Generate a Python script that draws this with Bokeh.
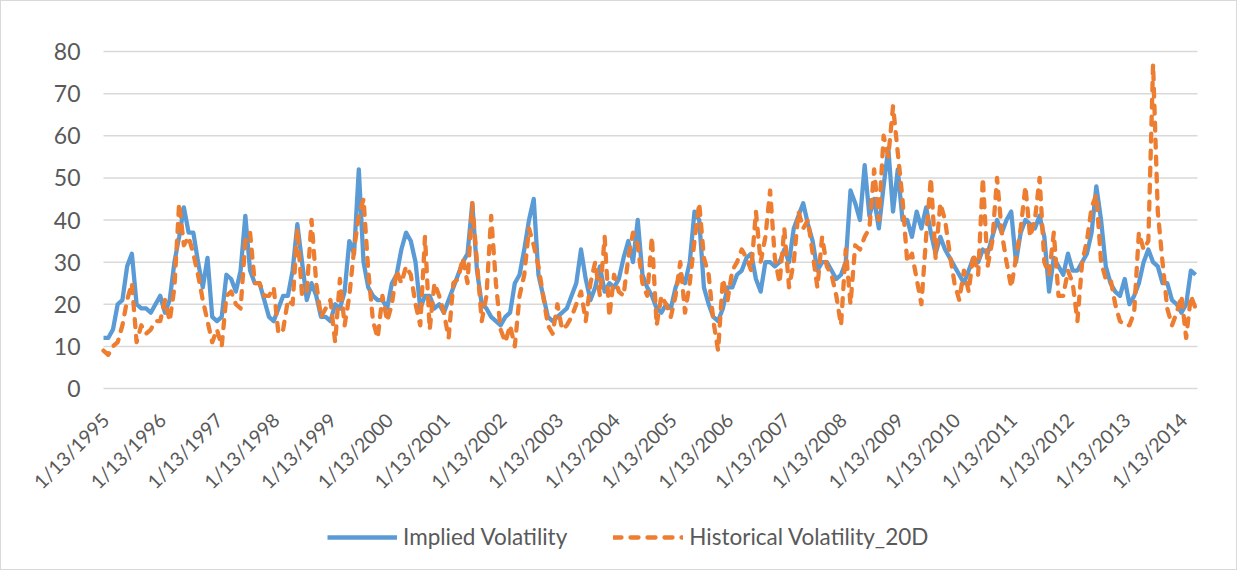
import math
from bokeh.plotting import figure
from bokeh.models import Range1d, Legend, LegendItem, ColumnDataSource
from bokeh.core.properties import value
from bokeh.embed import file_html
from bokeh.resources import INLINE

# Monthly readings (Jan 1995 .. Apr 2014), one value per month
implied_vol = [
    12, 12, 14, 20, 21, 29, 32, 20, 19, 19, 18, 20,
    22, 18, 21, 30, 36, 43, 37, 37, 30, 24, 31, 17,
    16, 17, 27, 26, 23, 28, 41, 28, 25, 25, 21, 17,
    16, 19, 22, 22, 28, 39, 30, 21, 25, 22, 17, 17,
    16, 20, 19, 23, 35, 32, 52, 30, 24, 22, 21, 21,
    19, 25, 27, 33, 37, 35, 30, 19, 22, 22, 19, 20,
    18, 21, 24, 27, 30, 32, 44, 28, 20, 19, 17, 16,
    15, 17, 18, 25, 27, 33, 40, 45, 27, 22, 17, 16,
    17, 18, 19, 22, 25, 33, 26, 21, 24, 29, 23, 25,
    24, 26, 31, 35, 30, 40, 27, 24, 22, 19, 18, 20,
    19, 24, 27, 25, 30, 42, 40, 24, 20, 17, 16, 19,
    24, 24, 27, 28, 31, 32, 26, 23, 30, 30, 29, 30,
    33, 30, 38, 41, 44, 39, 35, 28, 30, 30, 28, 26,
    27, 30, 47, 44, 40, 53, 41, 45, 38, 48, 57, 42,
    52, 40, 40, 36, 42, 38, 43, 37, 32, 36, 33, 31,
    29, 27, 25, 28, 31, 30, 33, 32, 36, 40, 37, 40,
    42, 30, 37, 40, 39, 38, 41, 36, 23, 31, 29, 27,
    32, 28, 28, 30, 32, 37, 48, 40, 29, 25, 23, 22,
    26, 20, 22, 25, 30, 33, 30, 29, 25, 25, 21, 20,
    18, 20, 28, 27,
]

historical_vol_20d = [
    9, 8, 10, 11, 15, 21, 25, 11, 15, 13, 14, 16,
    16, 21, 16, 24, 44, 34, 36, 32, 27, 21, 16, 11,
    14, 10, 22, 23, 20, 19, 35, 37, 25, 25, 22, 22,
    24, 13, 14, 21, 20, 38, 22, 23, 40, 25, 17, 19,
    21, 11, 26, 15, 22, 33, 41, 45, 28, 16, 12, 22,
    16, 20, 28, 25, 29, 27, 20, 15, 36, 14, 25, 22,
    18, 12, 25, 26, 31, 25, 44, 30, 16, 22, 41, 25,
    14, 11, 15, 10, 22, 27, 38, 34, 29, 22, 15, 13,
    20, 14, 15, 17, 20, 23, 16, 25, 30, 22, 36, 17,
    27, 23, 22, 31, 37, 34, 25, 22, 36, 15, 22, 20,
    17, 22, 30, 18, 25, 35, 44, 31, 27, 16, 9, 26,
    21, 28, 30, 33, 31, 28, 42, 30, 36, 47, 31, 25,
    38, 24, 30, 42, 38, 40, 32, 24, 36, 29, 27, 22,
    15, 33, 20, 34, 33, 36, 38, 52, 40, 60, 55, 67,
    56, 45, 30, 32, 26, 20, 36, 50, 31, 44, 40, 32,
    25, 21, 28, 23, 32, 27, 50, 29, 35, 50, 37, 30,
    24, 31, 38, 48, 36, 40, 50, 30, 27, 37, 22, 22,
    28, 25, 16, 30, 35, 43, 46, 30, 26, 26, 20, 16,
    15, 15, 18, 37, 33, 35, 77, 42, 30, 19, 15, 18,
    22, 12, 22, 19,
]

tick_labels = [
    "1/13/1995", "1/13/1996", "1/13/1997", "1/13/1998", "1/13/1999",
    "1/13/2000", "1/13/2001", "1/13/2002", "1/13/2003", "1/13/2004",
    "1/13/2005", "1/13/2006", "1/13/2007", "1/13/2008", "1/13/2009",
    "1/13/2010", "1/13/2011", "1/13/2012", "1/13/2013", "1/13/2014",
]

y_ticks = [0, 10, 20, 30, 40, 50, 60, 70, 80]

series_names = ["Implied Volatility", "Historical Volatility_20D"]

months = list(range(len(implied_vol)))
tick_pos = [12 * i for i in range(len(tick_labels))]
x_end = 231.4

src = ColumnDataSource(dict(x=months, iv=implied_vol, hv=historical_vol_20d))
xlab_src = ColumnDataSource(dict(x=tick_pos, y=[0] * len(tick_pos), t=tick_labels))
ylab_src = ColumnDataSource(dict(x=[0] * len(y_ticks), y=y_ticks, t=[str(v) for v in y_ticks]))
grid_src = ColumnDataSource(dict(x0=[0] * len(y_ticks), x1=[x_end] * len(y_ticks), y=y_ticks))

FONT = "Lato"
TXT = "#595959"
GRID = "#D9D9D9"

# The plotting frame covers the whole chart box so that the axis texts and the
# legend (drawn in data space, through the figure's scales) are not clipped.
p = figure(width=1237, height=570, output_backend="svg", toolbar_location=None,
           x_range=Range1d(-21.575, 240.07), y_range=Range1d(-43.44, 91.87),
           x_axis_location=None, y_axis_location=None, min_border=0)
p.styles = {"border": "1px solid #D9D9D9"}
p.outline_line_color = None
p.background_fill_color = "white"
p.border_fill_color = "white"
p.grid.visible = False

# horizontal value gridlines (0 line doubles as the category axis line)
p.segment(x0="x0", x1="x1", y0="y", y1="y", source=grid_src,
          line_color=GRID, line_width=1.5)

r_iv = p.line("x", "iv", source=src, line_color="#5B9BD5", line_width=4.3, line_join="round")
r_hv = p.line("x", "hv", source=src, line_color="#ED7D31", line_width=4.3,
              line_dash="8 9", line_cap="round", line_join="round")

# value axis labels
p.text("x", "y", text="t", source=ylab_src, text_align="right", text_baseline="middle",
       x_offset=-23, text_font=value(FONT), text_font_size="23px", text_color=TXT)

# date labels of the category axis
p.text("x", "y", text="t", source=xlab_src, angle=math.pi / 4,
       text_align="right", text_baseline="middle", x_offset=2, y_offset=28,
       text_font=value(FONT), text_font_size="19.5px", text_color=TXT)

legend = Legend(items=[LegendItem(label=series_names[0], renderers=[r_iv]),
                       LegendItem(label=series_names[1], renderers=[r_hv])],
                orientation="horizontal", location=(326, 21),
                glyph_width=70, glyph_height=24, label_standoff=6, spacing=46,
                padding=0, margin=0, border_line_color=None, background_fill_alpha=0,
                label_text_font=FONT, label_text_font_size="22.5px", label_text_color=TXT)
p.add_layout(legend, "center")

open("out.html", "w").write(file_html(p, INLINE))
